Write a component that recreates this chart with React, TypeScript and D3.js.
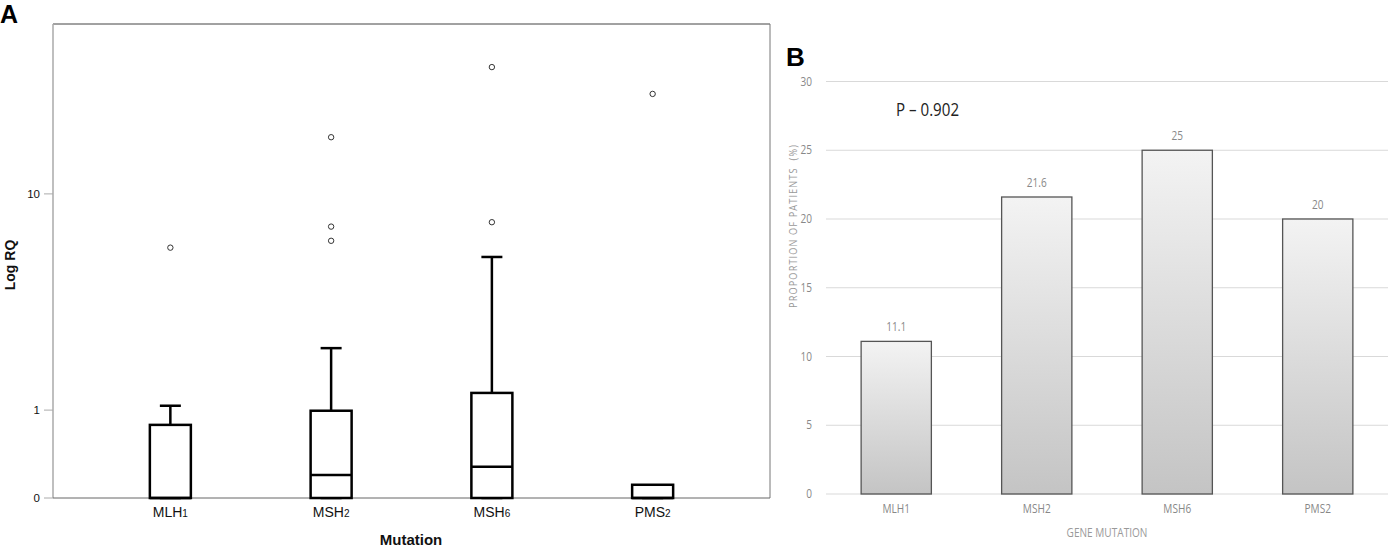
import * as d3 from "d3"

// Panel A: box plot of Log RQ per mutation
const mutations = ["MLH1", "MSH2", "MSH6", "PMS2"]
const boxQ1 = [0, 0, 0, 0]
const boxMedian = [0, 0.2, 0.28, 0]
const boxQ3 = [0.78, 0.99, 1.29, 0.11]
const whiskerLow = [0, 0, 0, 0]
const whiskerHigh = [1.07, 2.26, 5.69, 0.11]
const outliers = [[6.2], [16.2, 7.5, 6.6], [28.9, 7.8], [23.2]]
const logTicks = [0, 1, 10]

// Panel B: proportion of patients
const geneLabels = ["MLH1", "MSH2", "MSH6", "PMS2"]
const proportions = [11.1, 21.6, 25, 20]
const pctTicks = [0, 5, 10, 15, 20, 25, 30]

// condensed text helper (no narrow font installed, so squeeze horizontally)
function Narrow({ x, y, size, fill, anchor = "middle", children }: any) {
  return (
    <text
      transform={`translate(${x},${y}) scale(0.84,1)`}
      textAnchor={anchor}
      fontSize={size}
      fill={fill}
      fontFamily="'Open Sans', sans-serif"
    >
      {children}
    </text>
  )
}

export default function App() {
  // ---- Panel A scales
  const aLeft = 53
  const aRight = 770
  const aTop = 24
  const aBottom = 498
  const xA = d3.scalePoint<string>().domain(mutations).range([aLeft, aRight]).padding(0.73)
  const yA = d3.scaleSymlog().constant(1).domain([0, 41]).range([aBottom, aTop])
  const boxW = 41
  const capW = 21

  // ---- Panel B scales
  const bLeft = 826
  const bRight = 1388
  const xB = d3.scaleBand<string>().domain(geneLabels).range([bLeft, bRight]).paddingInner(0.5).paddingOuter(0.25)
  const yB = d3.scaleLinear().domain([0, 30]).range([494, 81.5])

  return (
    <svg width={1392} height={547} style={{ position: "absolute", left: 0, top: 0, background: "#fff" }} fontFamily="'Liberation Sans', Arial, sans-serif">
      <defs>
        <linearGradient id="barGrad" x1="0" y1="0" x2="0" y2="1">
          <stop offset="0%" stopColor="#f3f3f3" />
          <stop offset="100%" stopColor="#c4c4c4" />
        </linearGradient>
      </defs>

      {/* ===== Panel A ===== */}
      <text x={0} y={23} fontSize={25} fontWeight="bold" fill="#000">A</text>

      {/* frame */}
      <line x1={aLeft} x2={aRight} y1={aTop} y2={aTop} stroke="#444" strokeWidth={1} />
      <line x1={aRight} x2={aRight} y1={aTop} y2={aBottom} stroke="#777" strokeWidth={1} />
      <line x1={aLeft} x2={aLeft} y1={aTop} y2={aBottom} stroke="#aaa" strokeWidth={1.5} />
      <line x1={aLeft} x2={aRight} y1={aBottom} y2={aBottom} stroke="#666" strokeWidth={1} />

      {/* y ticks */}
      {logTicks.map((t) => (
        <g key={t}>
          <line x1={aLeft - 9} x2={aLeft} y1={yA(t)} y2={yA(t)} stroke="#aaa" strokeWidth={1} />
          <text x={aLeft - 13} y={yA(t)} dy="0.35em" textAnchor="end" fontSize={11.5} fill="#111">{t}</text>
        </g>
      ))}
      <text transform={`translate(15,${(aTop + aBottom) / 2 + 4}) rotate(-90)`} textAnchor="middle" fontSize={14} fontWeight="bold" fill="#111">Log RQ</text>

      {/* boxes */}
      {mutations.map((m, i) => {
        const cx = xA(m) as number
        return (
          <g key={m} stroke="#000" strokeWidth={2.5} fill="#fff">
            {whiskerHigh[i] > boxQ3[i] && (
              <>
                <line x1={cx} x2={cx} y1={yA(boxQ3[i])} y2={yA(whiskerHigh[i])} />
                <line x1={cx - capW / 2} x2={cx + capW / 2} y1={yA(whiskerHigh[i])} y2={yA(whiskerHigh[i])} />
              </>
            )}
            <line x1={cx - capW / 2} x2={cx + capW / 2} y1={yA(whiskerLow[i])} y2={yA(whiskerLow[i])} />
            <rect x={cx - boxW / 2} y={yA(boxQ3[i])} width={boxW} height={yA(boxQ1[i]) - yA(boxQ3[i])} />
            <line x1={cx - boxW / 2} x2={cx + boxW / 2} y1={yA(boxMedian[i])} y2={yA(boxMedian[i])} />
            {outliers[i].map((v, j) => (
              <circle key={j} cx={cx} cy={yA(v)} r={2.7} fill="#fff" stroke="#333" strokeWidth={1} />
            ))}
          </g>
        )
      })}

      {/* x labels */}
      {mutations.map((m) => (
        <text key={m} x={xA(m) as number} y={517} textAnchor="middle" fontSize={14} fill="#111">
          {m.slice(0, -1)}
          <tspan fontSize={10}>{m.slice(-1)}</tspan>
        </text>
      ))}
      <text x={411} y={545} textAnchor="middle" fontSize={15} fontWeight="bold" fill="#111">Mutation</text>

      {/* ===== Panel B ===== */}
      <text x={786} y={66} fontSize={26} fontWeight="bold" fill="#000">B</text>

      {pctTicks.map((t) => (
        <g key={t}>
          <line x1={bLeft} x2={bRight} y1={yB(t)} y2={yB(t)} stroke="#d9d9d9" strokeWidth={1} />
          <Narrow x={bLeft - 14} y={yB(t) + 4} size={12} fill="#888" anchor="end">{t}</Narrow>
        </g>
      ))}

      {geneLabels.map((g, i) => (
        <g key={g}>
          <rect
            x={xB(g) as number}
            y={yB(proportions[i])}
            width={xB.bandwidth()}
            height={yB(0) - yB(proportions[i])}
            fill="url(#barGrad)"
            stroke="#555"
            strokeWidth={1.3}
          />
          <Narrow x={(xB(g) as number) + xB.bandwidth() / 2} y={yB(proportions[i]) - 10} size={12} fill="#888">{proportions[i]}</Narrow>
          <Narrow x={(xB(g) as number) + xB.bandwidth() / 2} y={513} size={12} fill="#888">{g}</Narrow>
        </g>
      ))}

      <text transform={`translate(797,226) rotate(-90) scale(0.84,1)`} textAnchor="middle" fontSize={11} letterSpacing={1.3} fill="#999" fontFamily="'Open Sans', sans-serif" style={{ whiteSpace: "pre" }}>PROPORTION OF PATIENTS  (%)</text>
      <Narrow x={1107} y={537} size={12} fill="#999">GENE MUTATION</Narrow>

      <Narrow x={896} y={116} size={18} fill="#222" anchor="start">P – 0.902</Narrow>
    </svg>
  )
}
